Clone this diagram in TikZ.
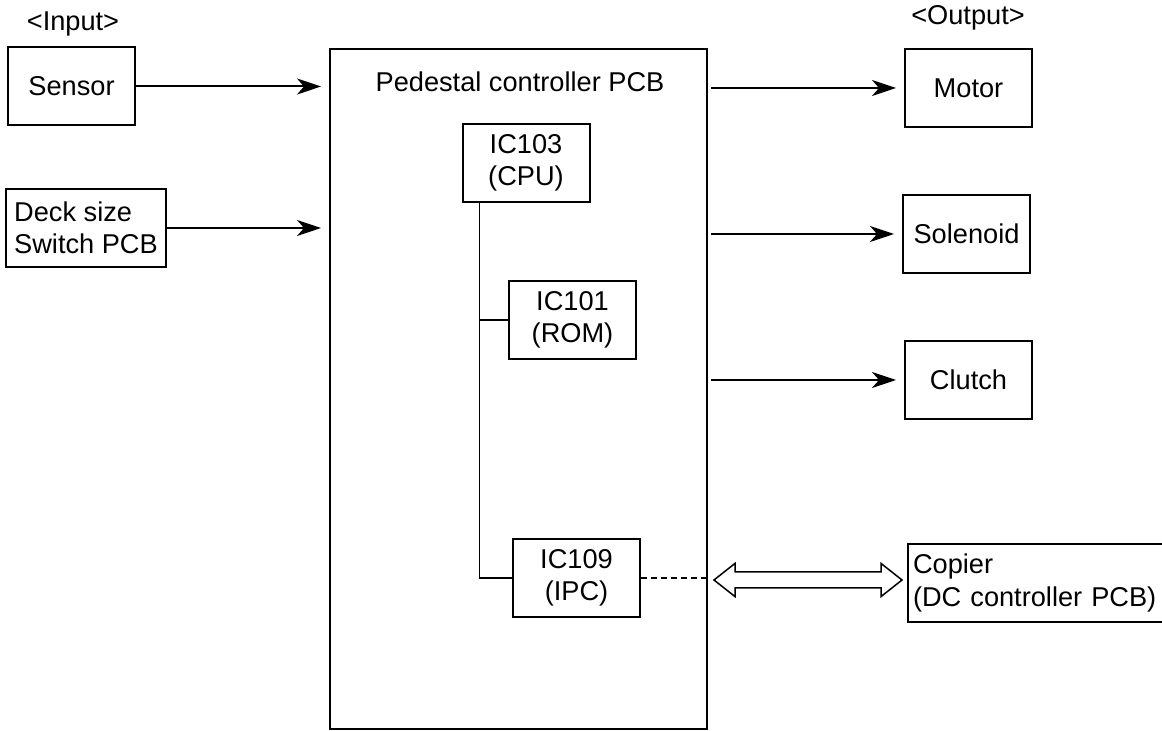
\documentclass[tikz,border=0pt]{standalone}
\usepackage{fontspec}
\setmainfont{Liberation Sans}
\usetikzlibrary{arrows.meta}

\begin{document}
\begin{tikzpicture}[x=0.5pt, y=-0.5pt,
  font=\fontsize{13.6}{16.2}\selectfont,
  box/.style={draw, line width=1pt, inner sep=0pt, minimum width=63.5pt, minimum height=39pt, align=center},
  sig/.style={-{Stealth[length=12pt, width=8pt, inset=3.5pt]}, line width=1pt, shorten >=4pt},
  wire/.style={line width=0.7pt}]
\useasboundingbox (0,0) rectangle (1162,731);
\node[draw, line width=1pt, minimum width=188.5pt, minimum height=340pt] (pcb) at (518.5,389) {};
\node (pcbname) at (520,82) {Pedestal controller PCB};
\node[box] (ic103) at (526,163) {IC103\\(CPU)};
\node[box] (ic101) at (572.5,320) {IC101\\(ROM)};
\node[box] (ic109) at (576.5,578) {IC109\\(IPC)};
\node (inlbl) at (73,24) {<Input>};
\node[box] (sensor) at (71.5,86.5) {Sensor};
\node[box, minimum width=80pt, align=left] (deck) at (86,228) {Deck size\\Switch PCB};
\node (outlbl) at (968,18) {<Output>};
\node[box] (motor) at (968.5,88) {Motor};
\node[box] (solenoid) at (966.5,234) {Solenoid};
\node[box] (clutch) at (968.5,380) {Clutch};
\node[box, anchor=west, text width=135pt, inner xsep=2.5pt, align=left] (copier) at (907,583) {Copier\\(DC controller PCB)};
\draw[sig] (sensor.east) -- (sensor.east -| pcb.west);
\draw[sig] (deck.east) -- (deck.east -| pcb.west);
\foreach \dev in {motor, solenoid, clutch}
  \draw[sig, shorten <=1.5pt] (\dev.west -| pcb.east) -- (\dev.west);
\coordinate (spine) at ([xshift=9pt]ic103.south west);
\draw[wire] (spine) |- (ic109.west);
\draw[wire] (spine |- ic101.west) -- (ic101.west);
\draw[wire, dash pattern=on 3pt off 2pt] (ic109.east) -- (ic109.east -| pcb.east);
\coordinate (lt) at ([xshift=3pt,yshift=-1pt]ic109.east -| pcb.east);
\coordinate (rt) at ([xshift=-2.5pt]lt -| copier.west);
\draw[line width=0.75pt] (lt) -- ++(10.5pt,8.3pt) -- ++(0,-4.3pt) -- ([xshift=-10.5pt,yshift=4pt]rt)
  -- ++(0,4.3pt) -- (rt) -- ++(-10.5pt,-8.3pt) -- ++(0,4.3pt) -- ([xshift=10.5pt,yshift=-4pt]lt)
  -- ++(0,-4.3pt) -- cycle;
\end{tikzpicture}
\end{document}
